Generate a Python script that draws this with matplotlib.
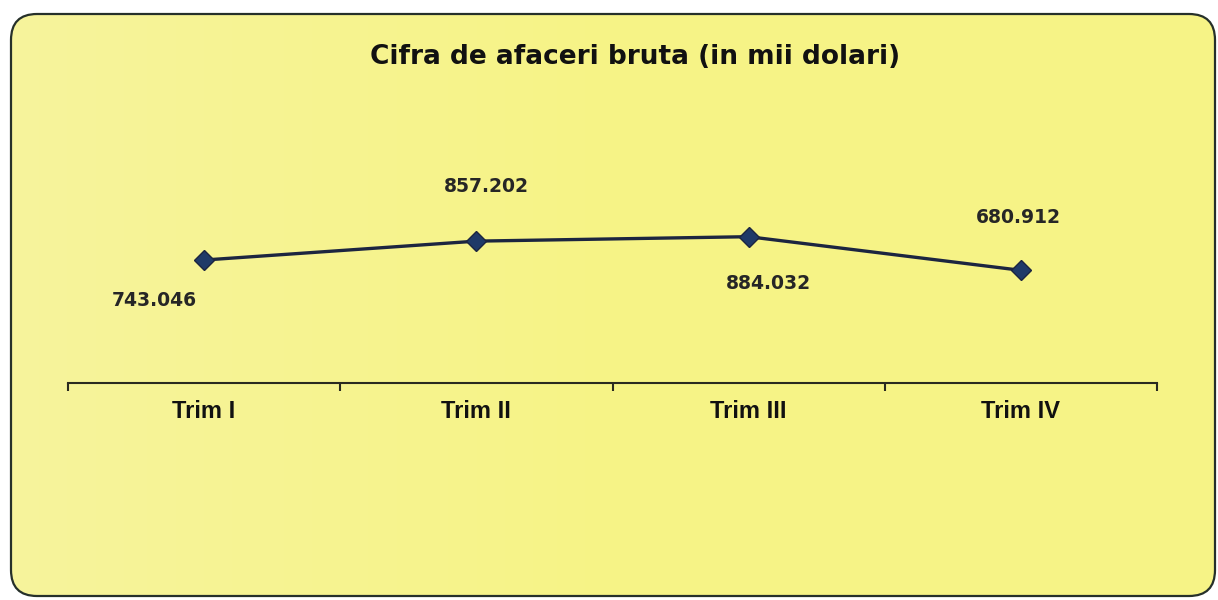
import numpy as np
import matplotlib
matplotlib.use("Agg")
from matplotlib import pyplot as plt
from matplotlib.patches import FancyBboxPatch

# data
quarters = ["Trim I", "Trim II", "Trim III", "Trim IV"]
values = [743.046, 857.202, 884.032, 680.912]
value_labels = ["743.046", "857.202", "884.032", "680.912"]
label_offsets = [(-36, -29), (7, 39), (14, -34), (-2, 38)]  # points

fig = plt.figure(figsize=(12.18, 6), dpi=100)
fig.patch.set_facecolor("white")

# background with rounded frame, drawn in pixel units
bg = fig.add_axes([0, 0, 1, 1])
bg.set_xlim(0, 1218)
bg.set_ylim(600, 0)
bg.axis("off")
frame = FancyBboxPatch((11, 14), 1204, 582, boxstyle="round,pad=0,rounding_size=26",
                       facecolor="none", edgecolor="#26302a", linewidth=1.6, zorder=3)
bg.add_patch(frame)
grad = np.linspace(0, 1, 256).reshape(1, -1)
cmap = matplotlib.colors.LinearSegmentedColormap.from_list("yel", ["#f6f39c", "#f7f386", "#f6f386"])
img = bg.imshow(grad, cmap=cmap, extent=(11, 1215, 596, 14), aspect="auto", zorder=1)
img.set_clip_path(frame)

# plot area: baseline at y=383 px
ax = fig.add_axes([68 / 1218, (600 - 383) / 600, (1157 - 68) / 1218, 283 / 600])
ax.patch.set_alpha(0)
x = np.arange(len(quarters))
ax.plot(x, values, color="#1c2540", linewidth=2.4, marker="D", markersize=10,
        markerfacecolor="#1f3a68", markeredgecolor="#1c2540", zorder=4)
ax.set_xlim(-0.5, len(quarters) - 0.5)
ax.set_ylim(0, 1710)

for xi, v, lab, off in zip(x, values, value_labels, label_offsets):
    ax.annotate(lab, (xi, v), xytext=off, textcoords="offset points",
                ha="center", va="center", fontsize=13.5, fontweight="bold",
                color="#262626", family="DejaVu Sans")

for s in ["top", "right", "left"]:
    ax.spines[s].set_visible(False)
ax.spines["bottom"].set_color("#2a2a20")
ax.spines["bottom"].set_linewidth(1.5)
ax.set_yticks([])
ax.set_xticks(np.arange(-0.5, len(quarters), 1.0))
ax.set_xticklabels([])
ax.set_xticks(x, minor=True)
ax.set_xticklabels(quarters, minor=True, fontsize=17, fontweight="bold",
                   family="Liberation Sans", color="#111111")
ax.tick_params(axis="x", which="major", direction="out", length=6, width=1.5, color="#2a2a20")
ax.tick_params(axis="x", which="minor", length=0, pad=12)

fig.text(635 / 1218, 1 - 57 / 600, "Cifra de afaceri bruta (in mii dolari)",
         ha="center", va="center", fontsize=19, fontweight="bold",
         family="DejaVu Sans", color="#111111")

fig.savefig("out.png", dpi=100)
